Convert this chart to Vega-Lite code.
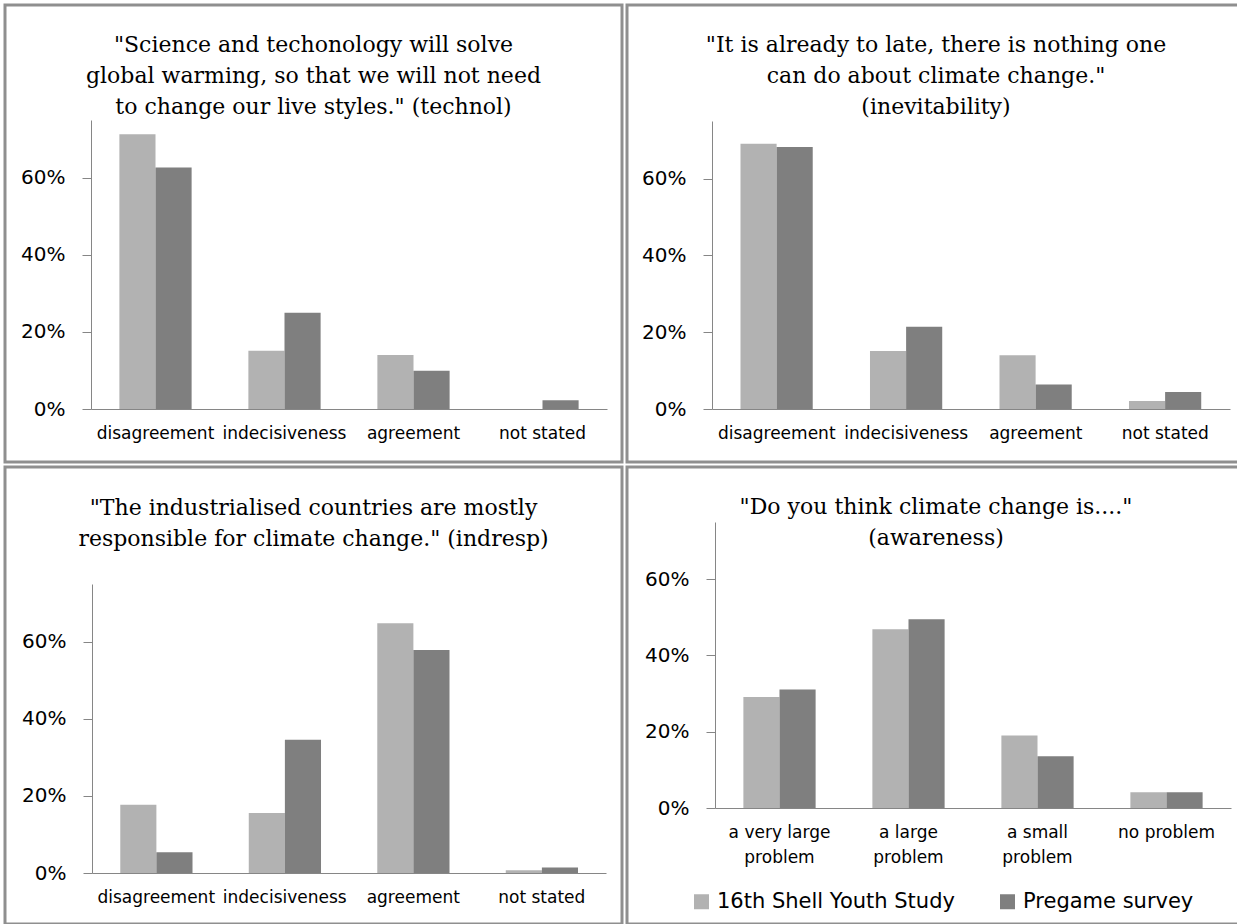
{
  "$schema": "https://vega.github.io/schema/vega-lite/v6.json",
  "background": "white",
  "padding": {"left": 3, "top": 3, "right": 0, "bottom": 0},
  "datasets": {
    "technol": [
      {"category": "disagreement", "series": "16th Shell Youth Study", "share": 0.713},
      {"category": "disagreement", "series": "Pregame survey", "share": 0.627},
      {"category": "indecisiveness", "series": "16th Shell Youth Study", "share": 0.151},
      {"category": "indecisiveness", "series": "Pregame survey", "share": 0.250},
      {"category": "agreement", "series": "16th Shell Youth Study", "share": 0.140},
      {"category": "agreement", "series": "Pregame survey", "share": 0.099},
      {"category": "not stated", "series": "16th Shell Youth Study", "share": 0.0},
      {"category": "not stated", "series": "Pregame survey", "share": 0.023}
    ],
    "inevitability": [
      {"category": "disagreement", "series": "16th Shell Youth Study", "share": 0.691},
      {"category": "disagreement", "series": "Pregame survey", "share": 0.682},
      {"category": "indecisiveness", "series": "16th Shell Youth Study", "share": 0.151},
      {"category": "indecisiveness", "series": "Pregame survey", "share": 0.214},
      {"category": "agreement", "series": "16th Shell Youth Study", "share": 0.140},
      {"category": "agreement", "series": "Pregame survey", "share": 0.064},
      {"category": "not stated", "series": "16th Shell Youth Study", "share": 0.021},
      {"category": "not stated", "series": "Pregame survey", "share": 0.044}
    ],
    "indresp": [
      {"category": "disagreement", "series": "16th Shell Youth Study", "share": 0.177},
      {"category": "disagreement", "series": "Pregame survey", "share": 0.054},
      {"category": "indecisiveness", "series": "16th Shell Youth Study", "share": 0.156},
      {"category": "indecisiveness", "series": "Pregame survey", "share": 0.346},
      {"category": "agreement", "series": "16th Shell Youth Study", "share": 0.648},
      {"category": "agreement", "series": "Pregame survey", "share": 0.579},
      {"category": "not stated", "series": "16th Shell Youth Study", "share": 0.007},
      {"category": "not stated", "series": "Pregame survey", "share": 0.014}
    ],
    "awareness": [
      {"category": "a very large problem", "series": "16th Shell Youth Study", "share": 0.291},
      {"category": "a very large problem", "series": "Pregame survey", "share": 0.311},
      {"category": "a large problem", "series": "16th Shell Youth Study", "share": 0.469},
      {"category": "a large problem", "series": "Pregame survey", "share": 0.495},
      {"category": "a small problem", "series": "16th Shell Youth Study", "share": 0.190},
      {"category": "a small problem", "series": "Pregame survey", "share": 0.136},
      {"category": "no problem", "series": "16th Shell Youth Study", "share": 0.041},
      {"category": "no problem", "series": "Pregame survey", "share": 0.041}
    ]
  },
  "config": {
    "view": {"stroke": "#8f8f8f", "strokeWidth": 3, "fill": "white"},
    "font": "DejaVu Sans",
    "title": {"font": "DejaVu Serif", "fontSize": 22, "fontWeight": "normal", "lineHeight": 31, "color": "#000000", "anchor": "middle"},
    "axis": {"grid": false, "domainColor": "#868686", "tickColor": "#868686", "labelColor": "#000000", "labelFont": "DejaVu Sans"},
    "axisX": {"ticks": false, "labelFontSize": 17, "labelPadding": 16, "labelAngle": 0, "labelLineHeight": 25, "labelLimit": 200},
    "axisY": {"tickSize": 9, "labelFontSize": 20, "labelPadding": 17}
  },
  "resolve": {"scale": {"color": "independent"}, "legend": {"color": "independent"}},
  "columns": 2,
  "spacing": 1,
  "concat": [
    {
      "width": 617, "height": 457,
      "data": {"name": "technol"},
      "title": {"text": ["\"Science and techonology will solve", "global warming, so that we will not need", "to change our live styles.\" (technol)"], "offset": -114},
      "mark": "bar",
      "encoding": {
        "x": {"field": "category", "type": "nominal", "sort": ["disagreement", "indecisiveness", "agreement", "not stated"], "scale": {"range": [86, 602], "paddingInner": 0.44, "paddingOuter": 0.22}, "axis": {"title": null, "offset": -53}},
        "xOffset": {"field": "series", "type": "nominal", "sort": ["16th Shell Youth Study", "Pregame survey"]},
        "y": {"field": "share", "type": "quantitative", "scale": {"domain": [0, 0.75], "range": [404, 115], "nice": false}, "axis": {"title": null, "offset": -86, "values": [0, 0.2, 0.4, 0.6], "format": ".0%"}},
        "color": {"field": "series", "type": "nominal", "scale": {"domain": ["16th Shell Youth Study", "Pregame survey"], "range": ["#b2b2b2", "#7f7f7f"]}, "legend": null}
      }
    },
    {
      "width": 622, "height": 457,
      "data": {"name": "inevitability"},
      "title": {"text": ["\"It is already to late, there is nothing one", "can do about climate change.\"", "(inevitability)"], "offset": -114, "dx": -2},
      "mark": "bar",
      "encoding": {
        "x": {"field": "category", "type": "nominal", "sort": ["disagreement", "indecisiveness", "agreement", "not stated"], "scale": {"range": [85, 603], "paddingInner": 0.44, "paddingOuter": 0.22}, "axis": {"title": null, "offset": -53}},
        "xOffset": {"field": "series", "type": "nominal", "sort": ["16th Shell Youth Study", "Pregame survey"]},
        "y": {"field": "share", "type": "quantitative", "scale": {"domain": [0, 0.75], "range": [404, 116], "nice": false}, "axis": {"title": null, "offset": -85, "values": [0, 0.2, 0.4, 0.6], "format": ".0%"}},
        "color": {"field": "series", "type": "nominal", "scale": {"domain": ["16th Shell Youth Study", "Pregame survey"], "range": ["#b2b2b2", "#7f7f7f"]}, "legend": null}
      }
    },
    {
      "width": 617, "height": 457,
      "data": {"name": "indresp"},
      "title": {"text": ["\"The industrialised countries are mostly", "responsible for climate change.\" (indresp)"], "offset": -84},
      "mark": "bar",
      "encoding": {
        "x": {"field": "category", "type": "nominal", "sort": ["disagreement", "indecisiveness", "agreement", "not stated"], "scale": {"range": [87, 601], "paddingInner": 0.44, "paddingOuter": 0.22}, "axis": {"title": null, "offset": -51}},
        "xOffset": {"field": "series", "type": "nominal", "sort": ["16th Shell Youth Study", "Pregame survey"]},
        "y": {"field": "share", "type": "quantitative", "scale": {"domain": [0, 0.75], "range": [406, 117], "nice": false}, "axis": {"title": null, "offset": -87, "values": [0, 0.2, 0.4, 0.6], "format": ".0%"}},
        "color": {"field": "series", "type": "nominal", "scale": {"domain": ["16th Shell Youth Study", "Pregame survey"], "range": ["#b2b2b2", "#7f7f7f"]}, "legend": null}
      }
    },
    {
      "width": 622, "height": 457,
      "data": {"name": "awareness"},
      "title": {"text": ["\"Do you think climate change is....\"", "(awareness)"], "offset": -83, "dx": -2},
      "mark": "bar",
      "encoding": {
        "x": {"field": "category", "type": "nominal", "sort": ["a very large problem", "a large problem", "a small problem", "no problem"], "scale": {"range": [88, 604], "paddingInner": 0.44, "paddingOuter": 0.22}, "axis": {"title": null, "offset": -116, "labelExpr": "datum.label == 'no problem' ? 'no problem' : [replace(datum.label, ' problem', ''), 'problem']"}},
        "xOffset": {"field": "series", "type": "nominal", "sort": ["16th Shell Youth Study", "Pregame survey"]},
        "y": {"field": "share", "type": "quantitative", "scale": {"domain": [0, 0.75], "range": [341, 55], "nice": false}, "axis": {"title": null, "offset": -88, "values": [0, 0.2, 0.4, 0.6], "format": ".0%"}},
        "color": {"field": "series", "type": "nominal", "scale": {"domain": ["16th Shell Youth Study", "Pregame survey"], "range": ["#b2b2b2", "#7f7f7f"]}, "legend": {"orient": "none", "legendX": 64, "legendY": 424, "direction": "horizontal", "title": null, "symbolType": "square", "symbolSize": 225, "symbolStrokeWidth": 0, "labelFontSize": 21, "labelFont": "DejaVu Sans", "labelColor": "#000000", "labelOffset": 5, "columnPadding": 42, "labelLimit": 400}}
      }
    }
  ]
}
